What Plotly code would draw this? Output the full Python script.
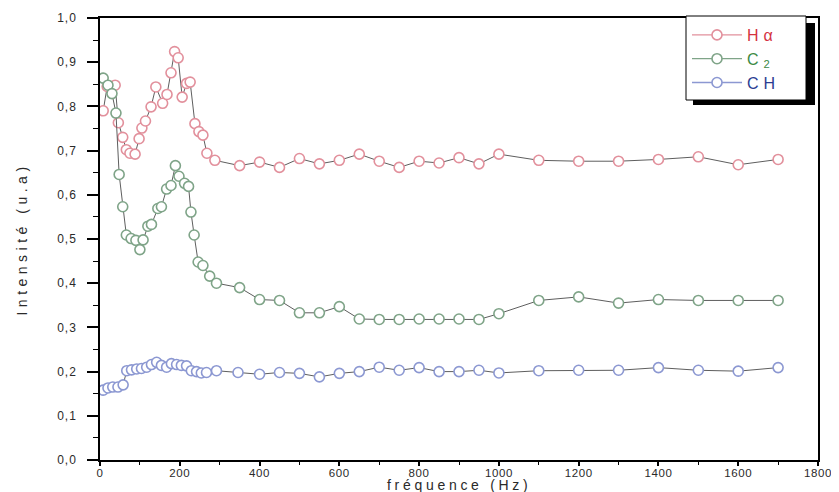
import plotly.graph_objects as go

# ---------------- data ----------------
ha_freq = [8, 18, 38, 46, 57, 66, 75, 88, 98, 105, 114, 128, 140, 157, 168, 178,
           187, 196, 206, 217, 226, 238, 248, 258, 268, 288,
           350, 400, 450, 500, 550, 600, 650, 700, 750, 800, 850, 900, 950, 1000,
           1100, 1200, 1300, 1400, 1500, 1600, 1700]
ha_val = [0.790, 0.845, 0.848, 0.763, 0.730, 0.702, 0.694, 0.692, 0.727, 0.751, 0.767,
          0.799, 0.844, 0.807, 0.827, 0.876, 0.924, 0.910, 0.821, 0.852, 0.855, 0.761,
          0.743, 0.735, 0.694, 0.678,
          0.666, 0.674, 0.662, 0.682, 0.670, 0.678, 0.692, 0.676, 0.662, 0.676, 0.672,
          0.684, 0.670, 0.692,
          0.678, 0.676, 0.676, 0.680, 0.686, 0.668, 0.680]

c2_freq = [8, 20, 30, 40, 48, 57, 66, 78, 90, 100, 108, 120, 129, 145, 154, 167, 178,
           189, 198, 212, 222, 228, 236, 246, 258, 275, 292,
           350, 400, 450, 500, 550, 600, 650, 700, 750, 800, 850, 900, 950, 1000,
           1100, 1200, 1300, 1400, 1500, 1600, 1700]
c2_val = [0.864, 0.848, 0.829, 0.785, 0.646, 0.573, 0.509, 0.501, 0.497, 0.476, 0.498,
          0.529, 0.533, 0.569, 0.573, 0.613, 0.621, 0.666, 0.642, 0.626, 0.619, 0.561,
          0.509, 0.448, 0.440, 0.416, 0.400,
          0.390, 0.363, 0.361, 0.333, 0.333, 0.347, 0.319, 0.318, 0.318, 0.319, 0.319,
          0.319, 0.318, 0.331,
          0.361, 0.369, 0.355, 0.363, 0.361, 0.361, 0.361]

ch_freq = [8, 20, 32, 45, 58, 67, 79, 92, 104, 117, 129, 142, 154, 167, 179, 192, 204,
           217, 229, 242, 254, 267, 292,
           346, 400, 450, 500, 550, 600, 650, 700, 750, 800, 850, 900, 950, 1000,
           1100, 1200, 1300, 1400, 1500, 1600, 1700]
ch_val = [0.158, 0.163, 0.165, 0.165, 0.170, 0.202, 0.204, 0.206, 0.207, 0.210, 0.216,
          0.221, 0.214, 0.210, 0.218, 0.216, 0.214, 0.213, 0.202, 0.200, 0.197, 0.198,
          0.202,
          0.198, 0.194, 0.198, 0.196, 0.188, 0.196, 0.200, 0.210, 0.203, 0.209, 0.200,
          0.200, 0.203, 0.197,
          0.202, 0.203, 0.203, 0.209, 0.203, 0.201, 0.209]

series_names = ["H\u03b1", "C<sub>2</sub>", "CH"]
marker_colors = ["#e2909c", "#7fa488", "#8c98d2"]
text_colors = ["#d4323f", "#3c8a45", "#2b3d92"]
line_color = "#5e5e5e"

x_ticks = [0, 200, 400, 600, 800, 1000, 1200, 1400, 1600, 1800]
y_ticks = [0.0, 0.1, 0.2, 0.3, 0.4, 0.5, 0.6, 0.7, 0.8, 0.9, 1.0]
y_labels = ["0,0", "0,1", "0,2", "0,3", "0,4", "0,5", "0,6", "0,7", "0,8", "0,9", "1,0"]
x_title = "fr\u00e9quence (Hz)"
y_title = "Intensit\u00e9 (u.a)"

# ---------------- figure ----------------
W, H = 839, 492
L, R, T, B = 92, 29, 10, 40

def spaced(s, ls):
    return f"<span style='letter-spacing:{ls}px'>{s}</span>"

fig = go.Figure()
data = [(ha_freq, ha_val), (c2_freq, c2_val), (ch_freq, ch_val)]
for (xs, ys), mc in zip(data, marker_colors):
    fig.add_trace(go.Scatter(
        x=xs, y=ys, mode="lines+markers", showlegend=False,
        line=dict(color=line_color, width=1),
        marker=dict(symbol="circle", size=10, color="white",
                    line=dict(color=mc, width=1.6)),
    ))

# legend entries
for name, mc, tc in zip(series_names, marker_colors, text_colors):
    fig.add_trace(go.Scatter(
        x=[None], y=[None], mode="lines+markers",
        name=f"<span style='color:{tc};letter-spacing:5px'>{name}</span>",
        line=dict(color=mc, width=1.3),
        marker=dict(symbol="circle", size=10, color="white",
                    line=dict(color=mc, width=1.6)),
    ))

pw = W - L - R
ph = H - T - B
def px(x):
    return (x - L) / pw
def py(y):
    return (H - B - y) / ph

# legend frame (pixels): drop shadow + white box with thin border
BX0, BY0, BX1, BY1 = 678, 8, 798, 92
fig.add_shape(type="rect", xref="paper", yref="paper",
              x0=px(BX0 + 7), x1=px(BX1 + 9), y0=py(BY1 + 5), y1=py(BY0 + 7),
              fillcolor="black", line=dict(width=0), layer="above")
fig.add_shape(type="rect", xref="paper", yref="paper",
              x0=px(BX0), x1=px(BX1), y0=py(BY1), y1=py(BY0),
              fillcolor="white", line=dict(color="black", width=1), layer="above")

axis_font = dict(family="Liberation Sans, Arial, sans-serif", size=11.5, color="#2a2a2a")
ytick_font = dict(family="Liberation Sans, Arial, sans-serif", size=12, color="#2a2a2a")
title_font = dict(family="Liberation Sans, Arial, sans-serif", size=14, color="#2a2a2a")

# x-axis title placed as an annotation just below the tick labels
fig.add_annotation(
    text=spaced(x_title, 3.7), xref="paper", yref="paper", x=0.5, y=0,
    xanchor="center", yanchor="middle", yshift=-25, showarrow=False,
    font=title_font,
)

fig.update_layout(
    width=W, height=H,
    margin=dict(l=L, r=R, t=T, b=B),
    paper_bgcolor="white", plot_bgcolor="white",
    showlegend=True,
    legend=dict(
        x=px(BX0 + 1), y=py(BY0 + 2), xanchor="left", yanchor="top",
        bgcolor="rgba(0,0,0,0)", borderwidth=0,
        font=dict(family="Liberation Sans, Arial, sans-serif", size=16),
        itemwidth=50,
    ),
    xaxis=dict(
        range=[0, 1800], tickvals=x_ticks,
        ticktext=[spaced(str(v), 0.6) for v in x_ticks],
        ticks="outside", ticklen=4, tickwidth=1.5,
        tickcolor="black", showgrid=False, zeroline=False,
        showline=True, linecolor="black", linewidth=1.5, mirror=True,
        minor=dict(dtick=100, ticks="outside", ticklen=3, tickwidth=1.2, tickcolor="black"),
        tickfont=axis_font, ticklabelstandoff=-3, automargin=False,
    ),
    yaxis=dict(
        range=[0, 1.0], tickvals=y_ticks,
        ticktext=[spaced(t, 1) for t in y_labels],
        ticks="outside", ticklen=11, tickwidth=1.5, tickcolor="black",
        showgrid=False, zeroline=False,
        showline=True, linecolor="black", linewidth=1.5, mirror=True,
        minor=dict(dtick=0.05, ticks="outside", ticklen=5, tickwidth=1.2, tickcolor="black"),
        tickfont=ytick_font, ticklabelstandoff=8, automargin=False,
        title=dict(text=spaced(y_title, 4.5), font=title_font, standoff=26),
    ),
)

fig.write_html("out.html")
